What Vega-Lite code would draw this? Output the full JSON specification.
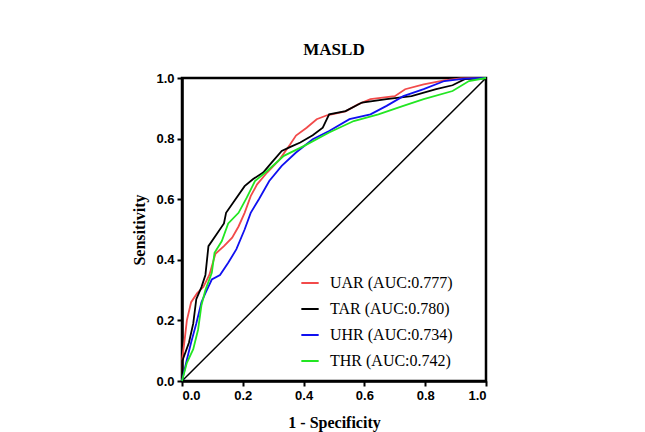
{
  "$schema": "https://vega.github.io/schema/vega-lite/v6.json",
  "width": 304,
  "height": 303,
  "autosize": {"type": "none"},
  "padding": {"left": 182, "top": 78, "right": 159, "bottom": 51},
  "background": "white",
  "title": {
    "text": "MASLD",
    "font": "Liberation Serif",
    "fontSize": 17,
    "fontWeight": "bold",
    "color": "black",
    "anchor": "middle",
    "offset": 13
  },
  "datasets": {
    "diag": [{"fpr": 0, "sens": 0}, {"fpr": 1, "sens": 1}],
    "roc": [
      {"model": "UAR (AUC:0.777)", "fpr": 0, "sens": 0.0},
      {"model": "UAR (AUC:0.777)", "fpr": 0.001, "sens": 0.075},
      {"model": "UAR (AUC:0.777)", "fpr": 0.008, "sens": 0.13},
      {"model": "UAR (AUC:0.777)", "fpr": 0.016, "sens": 0.2},
      {"model": "UAR (AUC:0.777)", "fpr": 0.03, "sens": 0.26},
      {"model": "UAR (AUC:0.777)", "fpr": 0.05, "sens": 0.29},
      {"model": "UAR (AUC:0.777)", "fpr": 0.07, "sens": 0.31},
      {"model": "UAR (AUC:0.777)", "fpr": 0.09, "sens": 0.35},
      {"model": "UAR (AUC:0.777)", "fpr": 0.11, "sens": 0.42},
      {"model": "UAR (AUC:0.777)", "fpr": 0.138, "sens": 0.445},
      {"model": "UAR (AUC:0.777)", "fpr": 0.165, "sens": 0.473},
      {"model": "UAR (AUC:0.777)", "fpr": 0.186, "sens": 0.51},
      {"model": "UAR (AUC:0.777)", "fpr": 0.206, "sens": 0.555},
      {"model": "UAR (AUC:0.777)", "fpr": 0.226, "sens": 0.61},
      {"model": "UAR (AUC:0.777)", "fpr": 0.247, "sens": 0.649},
      {"model": "UAR (AUC:0.777)", "fpr": 0.28, "sens": 0.688},
      {"model": "UAR (AUC:0.777)", "fpr": 0.32, "sens": 0.73},
      {"model": "UAR (AUC:0.777)", "fpr": 0.355, "sens": 0.78},
      {"model": "UAR (AUC:0.777)", "fpr": 0.375, "sens": 0.81},
      {"model": "UAR (AUC:0.777)", "fpr": 0.41, "sens": 0.836},
      {"model": "UAR (AUC:0.777)", "fpr": 0.443, "sens": 0.864},
      {"model": "UAR (AUC:0.777)", "fpr": 0.477, "sens": 0.877},
      {"model": "UAR (AUC:0.777)", "fpr": 0.538, "sens": 0.89},
      {"model": "UAR (AUC:0.777)", "fpr": 0.579, "sens": 0.913},
      {"model": "UAR (AUC:0.777)", "fpr": 0.62, "sens": 0.93},
      {"model": "UAR (AUC:0.777)", "fpr": 0.7, "sens": 0.94},
      {"model": "UAR (AUC:0.777)", "fpr": 0.734, "sens": 0.963},
      {"model": "UAR (AUC:0.777)", "fpr": 0.795, "sens": 0.979},
      {"model": "UAR (AUC:0.777)", "fpr": 0.863, "sens": 0.992},
      {"model": "UAR (AUC:0.777)", "fpr": 0.917, "sens": 0.999},
      {"model": "UAR (AUC:0.777)", "fpr": 1, "sens": 1},

      {"model": "TAR (AUC:0.780)", "fpr": 0, "sens": 0.0},
      {"model": "TAR (AUC:0.780)", "fpr": 0.001, "sens": 0.066},
      {"model": "TAR (AUC:0.780)", "fpr": 0.023, "sens": 0.127},
      {"model": "TAR (AUC:0.780)", "fpr": 0.037, "sens": 0.19},
      {"model": "TAR (AUC:0.780)", "fpr": 0.047, "sens": 0.27},
      {"model": "TAR (AUC:0.780)", "fpr": 0.064, "sens": 0.31},
      {"model": "TAR (AUC:0.780)", "fpr": 0.077, "sens": 0.35},
      {"model": "TAR (AUC:0.780)", "fpr": 0.087, "sens": 0.445},
      {"model": "TAR (AUC:0.780)", "fpr": 0.111, "sens": 0.48},
      {"model": "TAR (AUC:0.780)", "fpr": 0.138, "sens": 0.52},
      {"model": "TAR (AUC:0.780)", "fpr": 0.145, "sens": 0.555},
      {"model": "TAR (AUC:0.780)", "fpr": 0.172, "sens": 0.594},
      {"model": "TAR (AUC:0.780)", "fpr": 0.206, "sens": 0.643},
      {"model": "TAR (AUC:0.780)", "fpr": 0.233, "sens": 0.666},
      {"model": "TAR (AUC:0.780)", "fpr": 0.267, "sens": 0.688},
      {"model": "TAR (AUC:0.780)", "fpr": 0.294, "sens": 0.72},
      {"model": "TAR (AUC:0.780)", "fpr": 0.328, "sens": 0.759},
      {"model": "TAR (AUC:0.780)", "fpr": 0.355, "sens": 0.772},
      {"model": "TAR (AUC:0.780)", "fpr": 0.389, "sens": 0.787},
      {"model": "TAR (AUC:0.780)", "fpr": 0.43, "sens": 0.811},
      {"model": "TAR (AUC:0.780)", "fpr": 0.463, "sens": 0.836},
      {"model": "TAR (AUC:0.780)", "fpr": 0.484, "sens": 0.88},
      {"model": "TAR (AUC:0.780)", "fpr": 0.538, "sens": 0.891},
      {"model": "TAR (AUC:0.780)", "fpr": 0.592, "sens": 0.919},
      {"model": "TAR (AUC:0.780)", "fpr": 0.673, "sens": 0.93},
      {"model": "TAR (AUC:0.780)", "fpr": 0.755, "sens": 0.94},
      {"model": "TAR (AUC:0.780)", "fpr": 0.836, "sens": 0.963},
      {"model": "TAR (AUC:0.780)", "fpr": 0.89, "sens": 0.976},
      {"model": "TAR (AUC:0.780)", "fpr": 0.93, "sens": 0.996},
      {"model": "TAR (AUC:0.780)", "fpr": 1, "sens": 1},

      {"model": "UHR (AUC:0.734)", "fpr": 0, "sens": 0},
      {"model": "UHR (AUC:0.734)", "fpr": 0.016, "sens": 0.07},
      {"model": "UHR (AUC:0.734)", "fpr": 0.03, "sens": 0.127},
      {"model": "UHR (AUC:0.734)", "fpr": 0.047, "sens": 0.19},
      {"model": "UHR (AUC:0.734)", "fpr": 0.064, "sens": 0.26},
      {"model": "UHR (AUC:0.734)", "fpr": 0.077, "sens": 0.29},
      {"model": "UHR (AUC:0.734)", "fpr": 0.098, "sens": 0.335},
      {"model": "UHR (AUC:0.734)", "fpr": 0.125, "sens": 0.35},
      {"model": "UHR (AUC:0.734)", "fpr": 0.152, "sens": 0.39},
      {"model": "UHR (AUC:0.734)", "fpr": 0.179, "sens": 0.435},
      {"model": "UHR (AUC:0.734)", "fpr": 0.206, "sens": 0.5},
      {"model": "UHR (AUC:0.734)", "fpr": 0.226, "sens": 0.555},
      {"model": "UHR (AUC:0.734)", "fpr": 0.253, "sens": 0.6},
      {"model": "UHR (AUC:0.734)", "fpr": 0.287, "sens": 0.66},
      {"model": "UHR (AUC:0.734)", "fpr": 0.328, "sens": 0.71},
      {"model": "UHR (AUC:0.734)", "fpr": 0.375, "sens": 0.754},
      {"model": "UHR (AUC:0.734)", "fpr": 0.43, "sens": 0.798},
      {"model": "UHR (AUC:0.734)", "fpr": 0.484, "sens": 0.825},
      {"model": "UHR (AUC:0.734)", "fpr": 0.551, "sens": 0.864},
      {"model": "UHR (AUC:0.734)", "fpr": 0.62, "sens": 0.88},
      {"model": "UHR (AUC:0.734)", "fpr": 0.673, "sens": 0.908},
      {"model": "UHR (AUC:0.734)", "fpr": 0.728, "sens": 0.94},
      {"model": "UHR (AUC:0.734)", "fpr": 0.795, "sens": 0.963},
      {"model": "UHR (AUC:0.734)", "fpr": 0.863, "sens": 0.99},
      {"model": "UHR (AUC:0.734)", "fpr": 0.93, "sens": 0.998},
      {"model": "UHR (AUC:0.734)", "fpr": 1, "sens": 1},

      {"model": "THR (AUC:0.742)", "fpr": 0, "sens": 0},
      {"model": "THR (AUC:0.742)", "fpr": 0.016, "sens": 0.06},
      {"model": "THR (AUC:0.742)", "fpr": 0.037, "sens": 0.105},
      {"model": "THR (AUC:0.742)", "fpr": 0.053, "sens": 0.17},
      {"model": "THR (AUC:0.742)", "fpr": 0.064, "sens": 0.25},
      {"model": "THR (AUC:0.742)", "fpr": 0.077, "sens": 0.3},
      {"model": "THR (AUC:0.742)", "fpr": 0.098, "sens": 0.357},
      {"model": "THR (AUC:0.742)", "fpr": 0.107, "sens": 0.423},
      {"model": "THR (AUC:0.742)", "fpr": 0.131, "sens": 0.462},
      {"model": "THR (AUC:0.742)", "fpr": 0.152, "sens": 0.52},
      {"model": "THR (AUC:0.742)", "fpr": 0.186, "sens": 0.555},
      {"model": "THR (AUC:0.742)", "fpr": 0.213, "sens": 0.605},
      {"model": "THR (AUC:0.742)", "fpr": 0.24, "sens": 0.66},
      {"model": "THR (AUC:0.742)", "fpr": 0.28, "sens": 0.693},
      {"model": "THR (AUC:0.742)", "fpr": 0.335, "sens": 0.743},
      {"model": "THR (AUC:0.742)", "fpr": 0.402, "sens": 0.776},
      {"model": "THR (AUC:0.742)", "fpr": 0.484, "sens": 0.82},
      {"model": "THR (AUC:0.742)", "fpr": 0.565, "sens": 0.858},
      {"model": "THR (AUC:0.742)", "fpr": 0.646, "sens": 0.88},
      {"model": "THR (AUC:0.742)", "fpr": 0.728, "sens": 0.908},
      {"model": "THR (AUC:0.742)", "fpr": 0.795, "sens": 0.93},
      {"model": "THR (AUC:0.742)", "fpr": 0.89, "sens": 0.957},
      {"model": "THR (AUC:0.742)", "fpr": 0.944, "sens": 0.99},
      {"model": "THR (AUC:0.742)", "fpr": 1, "sens": 1}
    ]
  },
  "layer": [
    {
      "data": {"name": "diag"},
      "mark": {"type": "line", "color": "black", "strokeWidth": 1.5},
      "encoding": {
        "x": {"field": "fpr", "type": "quantitative"},
        "y": {"field": "sens", "type": "quantitative"}
      }
    },
    {
      "data": {"name": "roc"},
      "mark": {"type": "line", "strokeWidth": 1.8},
      "encoding": {
        "x": {
          "field": "fpr", "type": "quantitative",
          "scale": {"domain": [0, 1], "nice": false},
          "axis": {"title": "1 - Specificity", "values": [0, 0.2, 0.4, 0.6, 0.8, 1], "format": ".1f", "titlePadding": 12}
        },
        "y": {
          "field": "sens", "type": "quantitative",
          "scale": {"domain": [0, 1], "nice": false},
          "axis": {"title": "Sensitivity", "values": [0, 0.2, 0.4, 0.6, 0.8, 1], "format": ".1f", "titlePadding": 8}
        },
        "color": {
          "field": "model", "type": "nominal",
          "scale": {
            "domain": ["UAR (AUC:0.777)", "TAR (AUC:0.780)", "UHR (AUC:0.734)", "THR (AUC:0.742)"],
            "range": ["#f24a4a", "#000000", "#1010f0", "#22e622"]
          },
          "legend": {
            "title": null,
            "orient": "none",
            "legendX": 118,
            "legendY": 195,
            "symbolType": "stroke",
            "symbolSize": 300,
            "symbolStrokeWidth": 2,
            "labelFont": "Liberation Serif",
            "labelFontSize": 16,
            "labelColor": "black",
            "rowPadding": 8,
            "labelOffset": 10
          }
        }
      }
    }
  ],
  "config": {
    "view": {"stroke": "black", "strokeWidth": 2.5},
    "axis": {
      "grid": false,
      "domainColor": "black",
      "domainWidth": 2.5,
      "tickColor": "black",
      "tickWidth": 2,
      "tickSize": 5,
      "labelFont": "Liberation Sans",
      "labelFontWeight": "bold",
      "labelFontSize": 13,
      "labelColor": "black",
      "labelPadding": 3,
      "titleFont": "Liberation Serif",
      "titleFontSize": 16,
      "titleFontWeight": "bold",
      "titleColor": "black"
    }
  }
}
